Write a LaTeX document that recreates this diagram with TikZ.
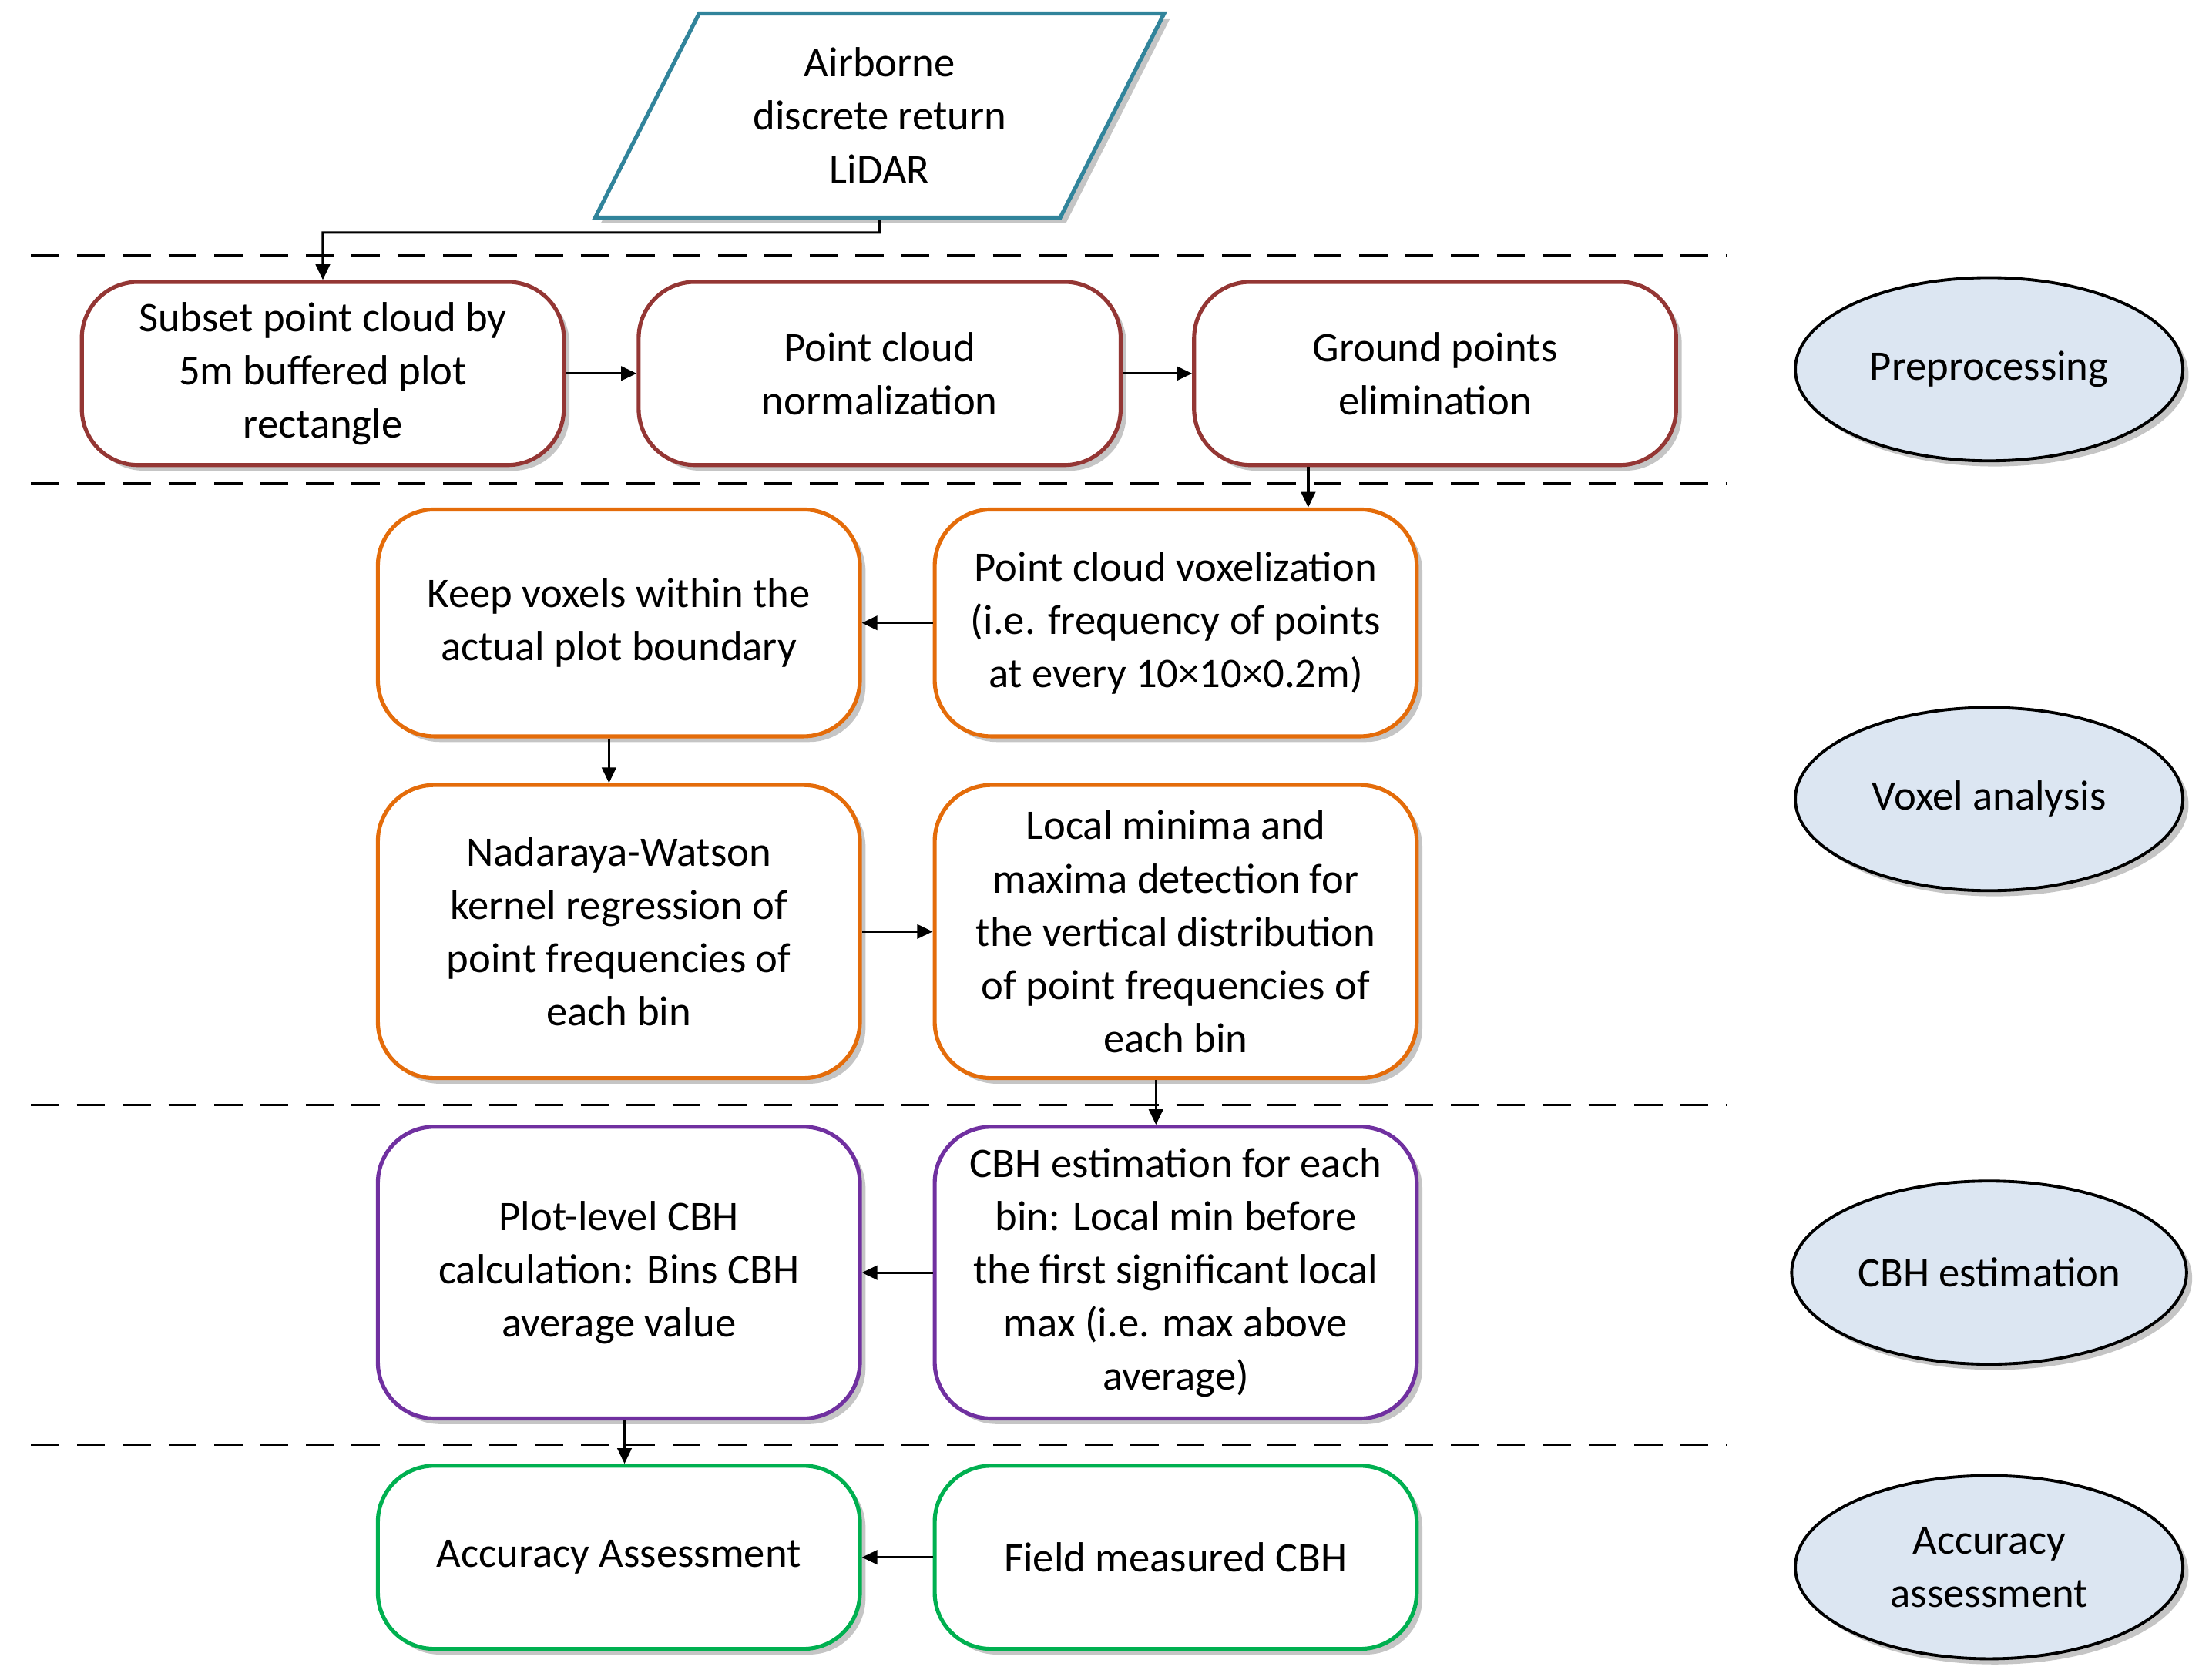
\documentclass[tikz,border=0pt]{standalone}
\usepackage{fontspec}
\setmainfont{Carlito}
\usetikzlibrary{shapes.geometric,shadows,arrows.meta}
\definecolor{cred}{HTML}{943634}
\definecolor{corange}{HTML}{E46C0A}
\definecolor{cpurple}{HTML}{7030A0}
\definecolor{cgreen}{HTML}{00B050}
\definecolor{cteal}{HTML}{31849B}
\definecolor{cell}{HTML}{DCE6F2}
\begin{document}
\begin{tikzpicture}[x=0.02cm,y=-0.02cm,
  every node/.style={font=\fontsize{17}{21.5}\selectfont},
  box/.style={draw,line width=1.6pt,rounded corners=0.8cm,fill=white,minimum width=6.84cm,align=center,drop shadow={shadow xshift=0.08cm,shadow yshift=-0.08cm,fill=black!45}},
  r1/.style={box,draw=cred,minimum height=2.6cm},
  ob/.style={box,draw=corange},
  pb/.style={box,draw=cpurple,minimum height=4.14cm},
  gb/.style={box,draw=cgreen,minimum height=2.6cm},
  ell/.style={ellipse,draw,line width=1.2pt,fill=cell,minimum width=5.5cm,minimum height=2.6cm,align=center,drop shadow={shadow xshift=0.08cm,shadow yshift=-0.08cm,fill=black!45}},
  dl/.style={dashed,line width=1pt,dash pattern=on 0.4cm off 0.25cm},
  ar/.style={-{Triangle[length=0.22cm,width=0.2cm]},line width=1pt}]
\useasboundingbox (0,0) rectangle (1567,1192);
\node[trapezium,trapezium left angle=63,trapezium right angle=117,draw=cteal,line width=1.6pt,fill=white,minimum width=8.1cm,minimum height=2.6cm,align=center,drop shadow={shadow xshift=0.08cm,shadow yshift=-0.08cm,fill=black!45}] (lidar) at (624,82) {Airborne\\discrete return\\LiDAR};
\foreach \y in {181,343,784,1025} \draw[dl] (22,\y) -- (1225,\y);
\node[r1] (b1) at (229,265) {Subset point cloud by\\5m buffered plot\\rectangle};
\node[r1] (b2) at (624,265) {Point cloud\\normalization};
\node[r1] (b3) at (1018,265) {Ground points\\elimination};
\node[ob,minimum height=3.22cm] (k) at (439,442) {Keep voxels within the\\actual plot boundary};
\node[ob,minimum height=3.22cm] (v) at (834,442) {Point cloud voxelization\\(i.e. frequency of points\\at every 10×10×0.2m)};
\node[ob,minimum height=4.16cm] (n) at (439,661) {Nadaraya-Watson\\kernel regression of\\point frequencies of\\each bin};
\node[ob,minimum height=4.16cm] (l) at (834,661) {Local minima and\\maxima detection for\\the vertical distribution\\of point frequencies of\\each bin};
\node[pb] (p) at (439,903) {Plot-level CBH\\calculation: Bins CBH\\average value};
\node[pb] (c) at (834,903) {CBH estimation for each\\bin: Local min before\\the first significant local\\max (i.e. max above\\average)};
\node[gb] (a) at (439,1105) {Accuracy Assessment};
\node[gb] (f) at (834,1105) {Field measured CBH};
\node[ell] (e1) at (1411,262) {Preprocessing};
\node[ell] (e2) at (1411,567) {Voxel analysis};
\node[ell] (e3) at (1411,903) {CBH estimation};
\node[ell] (e4) at (1411,1112) {Accuracy\\assessment};
\coordinate (t1) at (624,165);
\draw[ar] (lidar.south) -- (t1) -| (b1.north);
\draw[ar] (b1) -- (b2);
\draw[ar] (b2) -- (b3);
\draw[ar] (b3.south -| 928,0) -- (v.north -| 928,0);
\draw[ar] (v) -- (k);
\draw[ar] (k.south -| 432,0) -- (n.north -| 432,0);
\draw[ar] (n) -- (l);
\draw[ar] (l.south -| 820,0) -- (c.north -| 820,0);
\draw[ar] (c) -- (p);
\draw[ar] (p.south -| 443,0) -- (a.north -| 443,0);
\draw[ar] (f) -- (a);
\end{tikzpicture}
\end{document}
